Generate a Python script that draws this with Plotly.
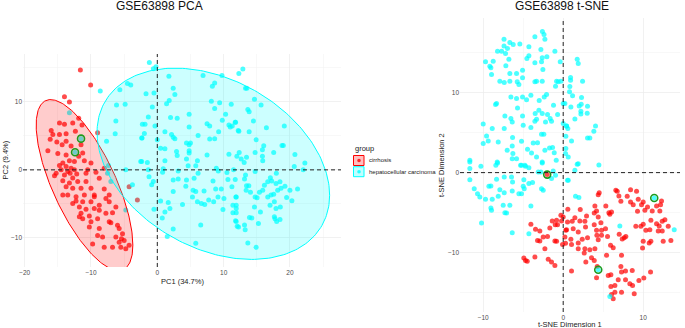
import numpy as np
import plotly.graph_objects as go

# ---------------- data ----------------
groups = ["cirrhosis", "hepatocellular carcinoma"]
group_colors = ["#FF0000", "#00FFFF"]

pca_cirrhosis = [
    (-11.6, 14.7), (-10.05, 12.5), (-14.0, 10.75), (-13.25, 10.0), (-11.85, 7.6), (-11.35, 6.6),
    (-9.0, 5.45), (-14.75, 6.9), (-14.0, 6.7), (-12.75, 6.9), (-16.0, 5.8), (-15.75, 5.2),
    (-14.75, 5.2), (-13.75, 5.3), (-12.35, 5.7), (-14.35, 3.7), (-13.75, 4.2), (-13.0, 3.5),
    (-11.5, 3.7), (-15.15, 4.1), (-11.25, 2.5), (-16.5, 2.8), (-15.0, 2.4), (-13.75, 2.2),
    (-11.0, 1.35), (-10.0, 1.0), (-14.25, 1.0), (-13.25, 1.35), (-14.75, 0.65), (-13.75, 0.5),
    (-13.0, 0.25), (-12.5, 0.0), (-13.5, -0.25), (-14.0, -0.75), (-13.15, -0.5), (-12.15, -0.6),
    (-12.75, -1.2), (-10.75, -0.5), (-9.25, -0.35), (-8.0, 0.25), (-15.5, -0.85), (-14.25, -1.6),
    (-13.25, -1.95), (-12.0, -1.7), (-10.75, -1.7), (-8.75, -1.25), (-13.75, -2.5), (-12.75, -2.7),
    (-11.5, -2.7), (-10.0, -2.7), (-13.5, -3.7), (-12.25, -3.95), (-11.0, -3.7), (-9.5, -3.7),
    (-8.0, -2.8), (-12.25, -4.6), (-11.25, -4.7), (-10.0, -4.7), (-8.75, -5.2), (-7.25, -4.7),
    (-11.75, -5.45), (-10.75, -5.8), (-9.5, -5.7), (-8.75, -5.95), (-7.75, -6.4), (-11.5, -6.4),
    (-10.25, -6.8), (-9.0, -7.2), (-6.75, -6.3), (-10.0, -7.65), (-11.25, -7.2), (-10.25, -8.4),
    (-8.75, -8.65), (-7.25, -7.65), (-6.0, -8.15), (-8.25, -9.9), (-6.25, -9.9), (-5.25, -9.4),
    (-5.0, -10.4), (-5.75, -10.65), (-6.75, -11.4), (-5.5, -11.4), (-4.75, -11.6), (-4.25, -11.1),
    (-9.75, -10.9), (-8.0, -11.4), (-7.0, -7.8), (-6.25, -5.45), (-9.5, -3.95), (-11.75, -6.9),
    (-14.25, -3.7), (-4.25, -2.5), (-3.0, -4.45), (-16.15, 4.5), (-15.25, -0.5), (-14.5, 0.0),
    (-12.5, 1.25), (-11.85, 2.0), (-10.5, 0.0), (-7.25, -3.7), (-7.75, -4.2), (-5.75, -8.65),
    (-5.4, -10.15), (-9.0, -9.65), (-12.75, -4.95),
]

pca_hcc = [
    (-8.6, 11.6), (-5.65, 11.8), (-4.5, 12.7), (-4.0, 12.5), (-13.25, 8.4), (-6.15, 9.55),
    (-4.85, 9.65), (-6.25, 7.2), (-6.35, 5.3), (-7.65, 4.2), (-2.25, 6.7), (-2.35, 4.7),
    (-2.5, 1.25), (-7.35, 0.65), (-7.5, -0.5), (-7.0, -1.7), (-4.75, 0.0), (-3.75, -2.2),
    (-4.75, -5.9), (-11.5, 4.6), (-12.4, 2.6),
    (-1.2, 15.8), (-0.6, 14.9), (-0.2, 15.2), (1.75, 13.8), (6.9, 13.9), (9.75, 13.9),
    (8.3, 12.3), (8.65, 12.8), (2.4, 12.0), (2.65, 11.1), (-1.7, 11.2), (-0.5, 11.3),
    (1.8, 10.2), (1.4, 9.75), (8.15, 10.1), (9.4, 9.9), (11.15, 9.65), (-0.75, 9.25),
    (8.65, 9.05), (4.8, 8.2), (10.3, 8.2), (-1.35, 7.8), (2.0, 7.7), (3.0, 7.6),
    (9.8, 7.3), (11.8, 7.0), (-1.85, 6.7), (-0.35, 6.45), (4.8, 6.3), (7.5, 6.8),
    (7.9, 6.45), (10.8, 6.6), (11.0, 6.3), (11.3, 6.45), (12.2, 5.8), (1.15, 5.6),
    (9.25, 5.6), (-1.95, 5.35), (2.15, 5.2), (2.65, 4.6), (2.4, 4.8), (-2.3, 4.7),
    (0.0, 4.45), (6.15, 5.05), (7.9, 4.55), (8.65, 4.6), (4.4, 3.95), (4.8, 3.7),
    (5.0, 3.95), (0.5, 3.2), (1.15, 3.1), (2.9, 2.7), (4.8, 2.8), (4.8, 2.5),
    (3.0, 2.1), (7.5, 2.2), (10.8, 2.3), (12.0, 2.0), (4.4, 1.6), (6.05, 1.35),
    (-2.35, 1.25), (-1.5, 1.1), (1.15, 1.35), (4.65, 0.6), (5.8, 0.6), (8.9, 0.25),
    (9.2, -0.15), (10.5, -0.4), (11.5, 0.0), (-1.35, 0.0), (0.9, 0.15), (0.8, -0.35),
    (3.15, -0.15), (6.15, -0.5), (-1.25, -1.0), (-0.6, -1.7), (-0.85, -2.2), (2.4, -1.5),
    (3.15, -1.35), (4.4, -1.5), (5.55, -1.25), (8.4, -1.65), (10.65, -1.4), (11.25, -2.5),
    (2.4, -3.2), (4.3, -2.4), (5.4, -3.0), (5.8, -3.2), (7.05, -3.1), (8.8, -2.8),
    (9.65, -2.8), (10.05, -4.2), (11.9, -4.0), (0.5, -4.6), (1.65, -4.8), (3.8, -5.1),
    (5.3, -4.0), (6.05, -4.7), (6.65, -4.95), (7.15, -5.1), (7.75, -4.45), (8.5, -4.7),
    (9.15, -4.0), (11.4, -5.2), (11.9, -5.2), (-0.5, -5.8), (1.9, -5.7), (1.15, -6.2),
    (9.9, -5.85), (11.4, -6.3), (0.75, -7.1), (11.8, -7.5), (12.05, -8.3), (6.55, -8.1),
    (2.4, -8.7), (1.5, -9.8), (5.8, -10.8),
    (12.9, 14.85), (12.3, 14.2), (13.3, 12.0), (13.5, 12.0), (14.65, 10.4), (15.65, 9.55),
    (13.65, 8.9), (13.85, 8.55), (14.5, 7.2), (11.75, 7.0), (16.45, 6.2), (19.15, 6.45),
    (12.3, 5.7), (13.85, 5.6), (14.9, 4.45), (16.05, 3.55), (18.8, 3.6), (19.0, 3.6),
    (15.85, 2.95), (12.35, 2.55), (14.75, 2.55), (17.55, 2.55), (20.75, 2.25), (15.85, 2.0),
    (13.45, 1.85), (12.65, 1.6), (13.1, 1.1), (15.9, 1.35), (22.25, 1.0), (20.65, 0.5),
    (22.0, 0.0), (14.75, -0.25), (17.95, -0.5), (13.3, -0.75), (11.75, -1.4), (13.15, -1.35),
    (17.05, -1.15), (17.25, -1.65), (17.9, -2.0), (18.5, -1.75), (13.45, -2.35), (13.8, -2.35),
    (16.15, -2.25), (16.65, -1.75), (19.25, -2.4), (18.65, -2.7), (20.0, -3.0), (21.15, -2.8),
    (18.15, -3.0), (13.4, -3.0), (14.05, -3.3), (15.4, -3.3), (15.9, -3.0), (14.75, -4.0),
    (15.05, -4.1), (11.85, -4.0), (16.65, -4.0), (17.15, -3.7), (17.55, -3.6), (19.5, -4.05),
    (20.3, -4.55), (17.65, -4.7), (18.55, -5.45), (17.0, -5.2), (14.65, -5.45), (15.55, -6.2),
    (17.9, -5.7), (11.9, -5.7), (11.9, -6.3), (17.65, -6.9), (17.75, -7.2), (18.5, -7.3),
    (18.0, -7.6), (14.25, -7.1), (13.9, -7.0), (11.9, -7.6), (12.25, -8.4), (13.15, -8.1),
    (13.25, -8.8), (15.25, -7.9), (13.65, -10.75), (14.9, -11.4),
]

pca_highlight = [(-11.5, 4.6), (-12.4, 2.6)]

tsne_cirrhosis = [
    (-2.0, -0.25),
    (-0.29, -5.33), (0.0, -5.54), (-1.37, -6.04), (-0.83, -5.96), (-0.21, -6.04), (-1.0, -6.5),
    (-0.71, -6.5), (-4.04, -6.46), (-3.46, -7.08), (-2.92, -7.29), (-1.67, -6.92), (-2.5, -8.04),
    (-1.96, -7.96), (-3.21, -8.46), (-2.92, -8.54), (-1.04, -8.54), (-0.83, -8.58), (0.21, -8.04),
    (0.33, -7.21), (-0.08, -8.96), (-2.29, -9.5), (-3.54, -10.54), (-4.92, -10.67), (-4.71, -10.96),
    (-4.5, -11.08), (-1.87, -10.83), (-1.46, -11.17), (-1.04, -11.58),
    (6.58, -2.21), (6.75, -2.33), (8.42, -2.13), (9.17, -2.33), (4.5, -2.5), (4.38, -2.75),
    (6.96, -2.92), (8.0, -2.96), (9.38, -3.33), (10.0, -3.67), (12.29, -3.54), (7.21, -3.58),
    (8.42, -3.67), (8.75, -4.0), (9.79, -4.0), (5.33, -4.17), (3.96, -4.17), (10.54, -4.29),
    (11.67, -4.17), (12.17, -4.0), (0.58, -4.58), (2.13, -4.62), (4.17, -4.79), (3.88, -5.04),
    (9.29, -4.83), (10.21, -4.71), (11.13, -4.79), (12.08, -4.79), (5.71, -5.0), (6.04, -4.92),
    (5.83, -5.21), (2.92, -5.42), (4.38, -5.54), (1.46, -5.63), (2.08, -6.04), (2.71, -6.08),
    (1.13, -6.08), (0.54, -6.17), (4.71, -6.25), (3.88, -6.5), (10.0, -6.46), (11.67, -6.38),
    (12.38, -6.08), (12.71, -5.88), (12.0, -6.67), (10.96, -5.96), (9.08, -6.71), (9.71, -6.71),
    (10.33, -7.21), (10.83, -7.13), (11.88, -7.29), (12.38, -7.29), (13.13, -6.71), (0.42, -7.13),
    (1.25, -7.0), (1.88, -7.42), (2.79, -6.79), (4.17, -7.21), (4.79, -7.21), (5.29, -7.0),
    (4.21, -7.83), (4.79, -7.83), (5.54, -7.96), (7.0, -7.71), (7.63, -8.13), (7.38, -8.29),
    (7.83, -7.96), (3.04, -8.13), (2.38, -8.33), (0.96, -8.33), (1.88, -8.79), (0.29, -8.83),
    (1.04, -8.96), (4.38, -8.38), (10.0, -8.58), (10.75, -8.79), (10.96, -8.58), (12.5, -8.58),
    (13.46, -8.46), (5.92, -9.08), (6.25, -9.38), (9.92, -9.42), (3.96, -9.5), (2.71, -9.5),
    (3.33, -9.63), (1.88, -9.5), (5.42, -10.33), (7.29, -10.33), (2.63, -10.04), (3.54, -10.63),
    (3.88, -10.96), (1.04, -12.29), (2.83, -11.17), (4.25, -11.71), (4.17, -13.13), (5.63, -12.83),
    (5.96, -12.75), (7.21, -11.71), (7.29, -12.42), (7.79, -12.29), (8.63, -12.21), (10.92, -12.42),
    (6.88, -13.38), (7.79, -13.38), (9.46, -13.46), (10.08, -13.17), (8.33, -13.88), (8.67, -14.08),
    (5.96, -14.21), (6.46, -14.08), (6.46, -14.92), (7.29, -14.92), (6.04, -15.21), (6.25, -15.75),
    (8.88, -15.13),
]

tsne_hcc = [
    (-2.6, 17.6), (-2.4, 17.25), (-3.54, 16.95), (-7.4, 16.66), (-6.67, 16.24), (-6.25, 16.0),
    (-5.42, 16.04), (-2.29, 16.66), (-4.29, 15.7), (-7.4, 15.79), (-6.96, 15.5), (-8.21, 15.16),
    (-7.7, 15.16), (-7.21, 14.87), (-2.79, 15.37), (-1.04, 15.16), (-4.29, 14.58), (-4.54, 14.24),
    (-2.62, 14.33), (-2.04, 14.45), (-6.79, 14.16), (-9.71, 13.83), (-8.75, 13.91), (-3.54, 13.7),
    (-2.71, 13.83), (-0.37, 13.83), (-9.17, 13.29), (-7.17, 13.33), (-9.04, 13.08), (-2.54, 12.87),
    (-5.08, 12.79), (-6.67, 12.37), (-5.83, 12.37), (-8.96, 12.24), (-5.08, 11.83), (-7.92, 11.41),
    (-7.37, 11.24), (-6.67, 11.41), (-5.75, 11.33), (-5.54, 11.0), (-3.54, 11.33), (-3.33, 11.41),
    (-2.62, 11.41), (-0.83, 11.41), (-0.62, 11.33), (-0.29, 11.41), (-0.96, 10.78), (-4.04, 9.66),
    (-6.54, 9.45), (-5.83, 9.24), (-5.08, 9.45), (-2.37, 9.45), (-2.08, 9.74), (-8.33, 8.62),
    (-8.46, 8.5), (-4.58, 9.08), (-3.0, 9.0), (-1.21, 8.41), (-5.71, 8.08), (-3.04, 7.79),
    (-2.62, 7.37), (-3.5, 7.37), (0.0, 8.62), (-7.29, 7.08), (-6.54, 6.74), (-6.37, 6.33),
    (-5.08, 7.08), (-3.33, 6.66), (-3.54, 6.41), (-1.96, 7.24), (-1.63, 6.74), (-1.46, 6.41),
    (-0.7, 7.24), (-2.21, 6.33), (-5.0, 5.91), (-4.04, 5.62), (-10.0, 6.08), (-8.87, 5.5),
    (-7.37, 5.5), (0.0, 6.12), (0.42, 5.83), (-2.71, 4.78), (-2.42, 4.78), (-9.58, 4.58),
    (-9.37, 3.95), (-10.0, 3.62), (-8.12, 3.83), (-6.33, 4.37), (-5.21, 3.91), (-3.75, 3.7),
    (-3.21, 3.74), (-6.37, 3.33), (-4.46, 2.91), (-7.0, 2.79), (-2.29, 2.79), (-1.71, 3.08),
    (-1.33, 3.12), (-1.12, 2.49), (-6.29, 2.37), (-3.96, 2.45), (-3.33, 1.95), (-6.37, 1.74),
    (-5.83, 1.74), (-2.62, 1.33), (-0.87, 1.53), (-11.67, 1.53), (-11.67, 1.33), (-8.25, 1.33),
    (-4.79, 0.91), (-5.33, 0.91), (0.33, 3.0), (0.63, 1.95),
    (1.75, 14.16), (1.88, 13.62), (0.92, 11.87), (0.92, 11.54), (2.42, 11.41), (0.83, 10.74),
    (0.79, 10.08), (1.17, 9.58), (2.29, 9.37), (0.21, 8.62), (2.25, 8.54), (2.0, 8.33),
    (3.04, 8.29), (0.96, 8.2), (2.21, 7.66), (2.21, 7.33), (3.0, 7.41), (1.46, 6.7),
    (4.04, 5.83), (0.42, 5.83), (0.58, 5.5), (3.83, 5.16), (0.33, 4.54), (3.04, 4.33),
    (3.33, 4.33), (1.04, 3.95), (0.29, 2.37), (1.75, 1.03), (1.88, 1.12), (4.46, 0.95),
    (-11.67, 0.5), (-10.29, 0.79), (-8.42, 0.92), (-8.21, 1.2), (-5.21, 0.92), (-4.71, 0.79),
    (-4.29, 0.62), (-2.62, 1.2), (-3.12, 0.08), (-2.79, 0.08), (-1.25, 0.2), (-0.96, -0.33),
    (-1.46, -0.75), (0.63, -0.96), (-11.67, -0.88), (-9.29, -1.71), (-9.04, -1.67), (-8.33, -0.84),
    (-7.37, -0.54), (-6.46, -0.54), (-6.33, -1.17), (-4.92, -0.88), (-4.29, -1.37), (-3.83, -1.25),
    (-5.0, -1.71), (-4.87, -2.0), (-7.92, -2.13), (-7.37, -2.5), (-6.37, -2.29), (-5.54, -2.63),
    (-5.21, -2.63), (-2.71, -2.0), (-2.5, -2.21), (-11.12, -2.0), (-10.71, -2.63), (-10.42, -3.04),
    (-9.71, -3.33), (-8.87, -3.33), (-8.12, -2.96), (-9.04, -4.42), (-8.96, -4.71), (-7.5, -4.08),
    (-6.67, -4.08), (-7.29, -5.0), (-7.08, -5.04), (-4.04, -4.17), (-10.21, -6.29), (-6.37, -7.5),
    (-4.29, -7.63),
    (1.46, 0.29), (0.54, -0.96), (1.54, -2.96), (1.96, -3.12), (7.08, -6.67), (13.88, -7.13),
    (5.83, -15.46), (11.38, -3.17), (4.38, -12.13),
]

tsne_highlight = [(-2.0, -0.25), (11.38, -3.17), (4.38, -12.13)]

pca_x_title = "PC1 (34.7%)"
pca_y_title = "PC2 (9.4%)"
tsne_x_title = "t-SNE Dimension 1"
tsne_y_title = "t-SNE Dimension 2"
titles = ["GSE63898 PCA", "GSE63898 t-SNE"]
legend_title = "group"

FONT = "Liberation Sans, Arial, Helvetica, sans-serif"
W, H = 685, 328


def xs(pts):
    return [p[0] for p in pts]


def ys(pts):
    return [p[1] for p in pts]


def cov_trob(a, nu=5, maxit=25, tol=0.01):
    """Multivariate t robust covariance (as MASS::cov.trob)."""
    n, p = a.shape
    loc = a.mean(axis=0)
    w = np.ones(n)
    X = a - loc
    for _ in range(maxit):
        w0 = w
        X = a - loc
        S = (X * (w / w.sum())[:, None]).T @ X
        Q = np.einsum("ij,jk,ik->i", X, np.linalg.inv(S), X)
        w = (nu + p) / (nu + Q)
        loc = (w[:, None] * a).sum(axis=0) / w.sum()
        if np.all(np.abs(w - w0) < tol):
            break
    cov = (X * w[:, None]).T @ X / n
    return loc, cov


def ellipse(pts, level=0.95, n=240):
    a = np.array(pts, dtype=float)
    center, shape = cov_trob(a)
    dfd = len(a) - 1
    fq = dfd / 2.0 * ((1.0 - level) ** (-2.0 / dfd) - 1.0)   # qf(level, 2, dfd)
    radius = np.sqrt(2.0 * fq)
    chol = np.linalg.cholesky(shape).T
    t = np.linspace(0, 2 * np.pi, n)
    unit = np.column_stack([np.cos(t), np.sin(t)])
    e = center + radius * unit @ chol
    return e[:, 0], e[:, 1]


def rgba(hexc, a):
    hexc = hexc.lstrip("#")
    return "rgba(%d,%d,%d,%s)" % (int(hexc[0:2], 16), int(hexc[2:4], 16), int(hexc[4:6], 16), a)


fig = go.Figure()

pca_sets = [pca_cirrhosis, pca_hcc]
tsne_sets = [tsne_cirrhosis, tsne_hcc]

for g, c, pts in zip(groups, group_colors, pca_sets):
    fig.add_trace(go.Scatter(x=xs(pts), y=ys(pts), mode="markers", xaxis="x", yaxis="y", name=g,
                             marker=dict(color=c, size=5, opacity=0.7, line=dict(width=0)),
                             showlegend=False, hoverinfo="skip"))
for g, c, pts in zip(groups, group_colors, pca_sets):
    ex, ey = ellipse(pts)
    fig.add_trace(go.Scatter(x=ex, y=ey, mode="lines", fill="toself", xaxis="x", yaxis="y",
                             fillcolor=rgba(c, 0.2), line=dict(color=c, width=1),
                             showlegend=False, hoverinfo="skip"))
for g, c, pts in zip(groups, group_colors, tsne_sets):
    fig.add_trace(go.Scatter(x=xs(pts), y=ys(pts), mode="markers", xaxis="x2", yaxis="y2", name=g,
                             marker=dict(color=c, size=5, opacity=0.7, line=dict(width=0)),
                             showlegend=False, hoverinfo="skip"))
for pts, xa, ya in [(pca_highlight, "x", "y"), (tsne_highlight, "x2", "y2")]:
    fig.add_trace(go.Scatter(x=xs(pts), y=ys(pts), mode="markers", xaxis=xa, yaxis=ya,
                             marker=dict(symbol="circle-open", size=7, color="#1E9A1E",
                                         line=dict(width=1.6, color="#1E9A1E")),
                             showlegend=False, hoverinfo="skip"))

grid_major = "#EBEBEB"
grid_minor = "#F2F2F2"
tickfont = dict(family=FONT, size=6.5, color="#4D4D4D")


def axis(domain, rng, anchor):
    return dict(domain=domain, range=rng, anchor=anchor, tick0=0, dtick=10,
                showgrid=True, gridcolor=grid_major, gridwidth=0.7,
                minor=dict(dtick=5, tick0=0, showgrid=True, gridcolor=grid_minor, gridwidth=0.5),
                zeroline=False, showline=False, ticks="", tickfont=tickfont, automargin=False,
                fixedrange=True)


px_x = lambda p: p / W
px_y = lambda p: 1 - p / H

fig.update_layout(
    width=W, height=H, paper_bgcolor="white", plot_bgcolor="white",
    margin=dict(l=0, r=0, t=0, b=0),
    font=dict(family=FONT, color="#222"),
    xaxis=axis([px_x(23), px_x(341)], [-20.25, 27.7], "y"),
    yaxis=axis([px_y(267), px_y(54)], [-14.3, 17.06], "x"),
    xaxis2=axis([px_x(460), px_x(680)], [-12.9, 14.6], "y2"),
    yaxis2=axis([px_y(312), px_y(18)], [-17.4, 19.3], "x2"),
    showlegend=False,
    hovermode=False,
)

shapes = []
for xa, ya in [("x", "y"), ("x2", "y2")]:
    shapes.append(dict(type="line", xref=xa, yref=ya + " domain", x0=0, x1=0, y0=0, y1=1,
                       line=dict(color="#222", width=1, dash="4px,3px")))
    shapes.append(dict(type="line", xref=xa + " domain", yref=ya, x0=0, x1=1, y0=0, y1=0,
                       line=dict(color="#222", width=1, dash="4px,3px")))

ann = []
# custom legend (key boxes + labels)
key_top = [155.5, 166.7]
for g, c, top in zip(groups, group_colors, key_top):
    shapes.append(dict(type="rect", xref="paper", yref="paper",
                       x0=px_x(353.5), x1=px_x(364), y0=px_y(top + 10), y1=px_y(top),
                       fillcolor=rgba(c, 0.25), line=dict(color=c, width=1)))
    shapes.append(dict(type="circle", xref="paper", yref="paper",
                       x0=px_x(357.2), x1=px_x(360.8), y0=px_y(top + 6.8), y1=px_y(top + 3.2),
                       fillcolor=rgba(c, 0.8), line=dict(width=0)))
    ann.append(dict(text=g, x=px_x(367.5), y=px_y(top + 5), xref="paper", yref="paper",
                    xanchor="left", yanchor="middle", showarrow=False,
                    font=dict(size=6, family=FONT, color="#222")))
ann.append(dict(text=legend_title, x=px_x(352.5), y=px_y(148), xref="paper", yref="paper",
                xanchor="left", yanchor="middle", showarrow=False,
                font=dict(size=7.5, family=FONT, color="#222")))

for txt, cx in zip(titles, [159.5, 562]):
    ann.append(dict(text=txt, x=px_x(cx), y=px_y(6), xref="paper", yref="paper",
                    xanchor="center", yanchor="middle", showarrow=False,
                    font=dict(size=12, family=FONT, color="#111")))
ann.append(dict(text=pca_x_title, x=px_x(182), y=px_y(281), xref="paper", yref="paper",
                xanchor="center", yanchor="middle", showarrow=False,
                font=dict(size=7.5, family=FONT, color="#222")))
ann.append(dict(text=pca_y_title, x=px_x(5), y=px_y(160.5), xref="paper", yref="paper",
                xanchor="center", yanchor="middle", showarrow=False, textangle=-90,
                font=dict(size=7.5, family=FONT, color="#222")))
ann.append(dict(text=tsne_x_title, x=px_x(570), y=px_y(324.5), xref="paper", yref="paper",
                xanchor="center", yanchor="middle", showarrow=False,
                font=dict(size=7.5, family=FONT, color="#222")))
ann.append(dict(text=tsne_y_title, x=px_x(441), y=px_y(165), xref="paper", yref="paper",
                xanchor="center", yanchor="middle", showarrow=False, textangle=-90,
                font=dict(size=7.5, family=FONT, color="#222")))
fig.update_layout(annotations=ann, shapes=shapes)

fig.write_html("out.html", config={"displayModeBar": False, "staticPlot": True},
               post_script="document.body.style.margin='0px';")
